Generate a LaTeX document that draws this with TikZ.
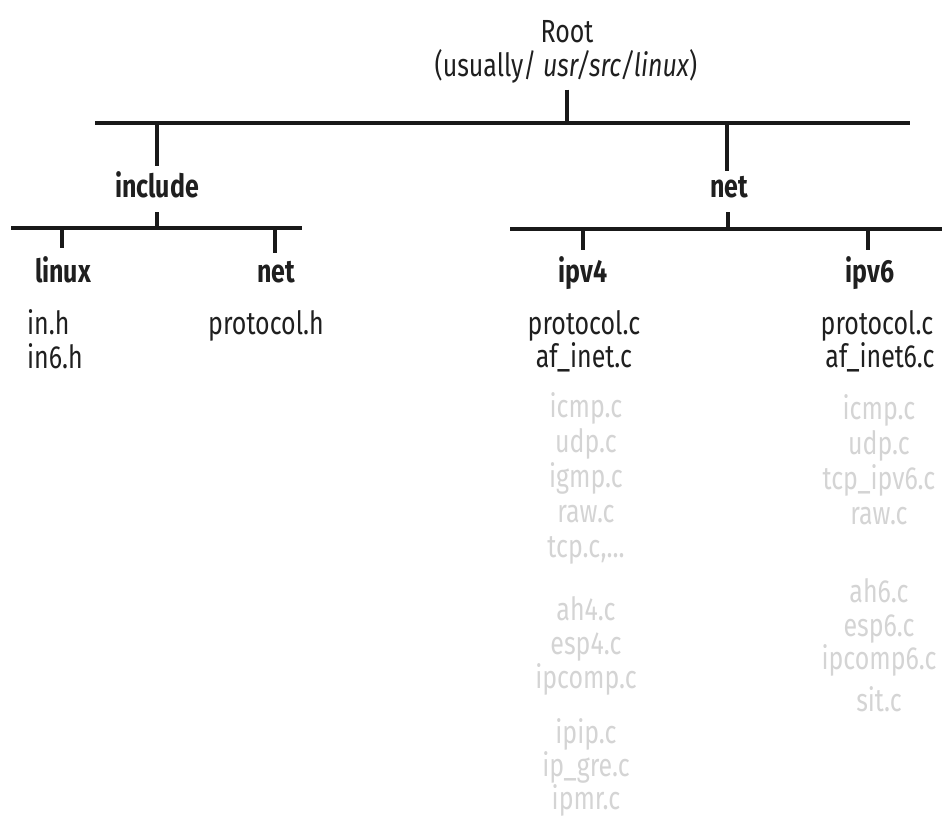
\documentclass[tikz,border=0pt]{standalone}
\usepackage{fontspec}
\setmainfont[FakeStretch=0.78]{Fira Sans}
\begin{document}
\begin{tikzpicture}[x=1pt,y=-1pt,
  txt/.style={inner sep=0pt,anchor=mid,font=\fontsize{32}{34}\selectfont,text=black!88},
  hdr/.style={txt,font=\fontsize{32}{34}\selectfont\bfseries},
  dim/.style={txt,text=black!17},
  bar/.style={line width=3.2pt,black!90,line cap=butt}]
\useasboundingbox (0,0) rectangle (942,823);
% Root
\node[txt] (root) at (567,40) {Root};
\node[txt] (rootpath) at (566,74) {(usually/ \textit{usr/src/linux})};
% buses
\coordinate (topL) at (95,123);
\coordinate (topR) at (910,123);
\coordinate (incL) at (11,228);
\coordinate (incR) at (302,228);
\coordinate (netL) at (510,229);
\coordinate (netR) at (942,229);
% level 1
\node[hdr] (include) at (157,195) {include};
\node[hdr] (net) at (729,195) {net};
% level 2
\node[hdr] (linux) at (63,280) {linux};
\node[hdr] (inet) at (276,280) {net};
\node[hdr] (ipv4) at (583,280) {ipv4};
\node[hdr] (ipv6) at (870,280) {ipv6};
% files
\node[txt,anchor=mid west] (inh) at (27,332) {in.h};
\node[txt,anchor=mid west] (in6h) at (27,366) {in6.h};
\node[txt] (protoh) at (266,332) {protocol.h};
\node[txt] (proto4) at (584,332) {protocol.c};
\node[txt] (afinet) at (584,365) {af\_inet.c};
\node[txt] (proto6) at (877,332) {protocol.c};
\node[txt] (afinet6) at (880,365) {af\_inet6.c};
% grey ipv4
\node[dim] (i4a) at (586,415) {icmp.c};
\node[dim] (i4b) at (586,450) {udp.c};
\node[dim] (i4c) at (586,485) {igmp.c};
\node[dim] (i4d) at (586,520) {raw.c};
\node[dim] (i4e) at (586,555) {tcp.c,...};
\node[dim] (i4f) at (586,618) {ah4.c};
\node[dim] (i4g) at (586,652) {esp4.c};
\node[dim] (i4h) at (586,686) {ipcomp.c};
\node[dim] (i4i) at (586,741) {ipip.c};
\node[dim] (i4j) at (586,774) {ip\_gre.c};
\node[dim] (i4k) at (586,807) {ipmr.c};
% grey ipv6
\node[dim] (i6a) at (879,417) {icmp.c};
\node[dim] (i6b) at (879,452) {udp.c};
\node[dim] (i6c) at (879,487) {tcp\_ipv6.c};
\node[dim] (i6d) at (879,522) {raw.c};
\node[dim] (i6e) at (879,600) {ah6.c};
\node[dim] (i6f) at (879,634) {esp6.c};
\node[dim] (i6g) at (879,667) {ipcomp6.c};
\node[dim] (i6h) at (879,709) {sit.c};
% lines
\draw[bar] (topL) -- (topR);
\draw[bar] (incL) -- (incR);
\draw[bar] (netL) -- (netR);
\draw[bar] ([yshift=-6pt]rootpath.south -| root.center) -- (root.center |- topL);
\draw[bar] (include.center |- topL) -- ([yshift=5pt]include.north);
\draw[bar] ([yshift=-14pt]include.south) -- (include.center |- incL);
\draw[bar] (727,123) -- ([yshift=5pt]net.north -| 727,0);
\draw[bar] ([yshift=-14pt]net.south -| 728,0) -- (728,229);
\draw[bar] (62,228) -- ([yshift=8pt]linux.north -| 62,0);
\draw[bar] (275,228) -- ([yshift=8pt]inet.north -| 275,0);
\draw[bar] (583,229) -- ([yshift=6pt]ipv4.north);
\draw[bar] (868,229) -- ([yshift=6pt]ipv6.north -| 868,0);
\end{tikzpicture}
\end{document}
